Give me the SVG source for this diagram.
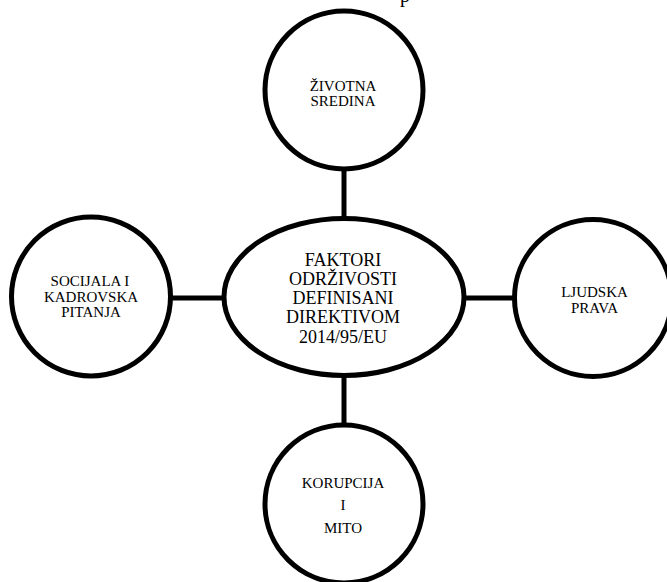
<svg xmlns="http://www.w3.org/2000/svg" width="667" height="582" viewBox="0 0 667 582">
<style>
.n{fill:#fff;stroke:#000;stroke-width:5}
.c{stroke:#000;stroke-width:5;fill:none}
.t{font-family:"Liberation Serif","Times New Roman",serif;font-size:15px;fill:#000;text-anchor:middle}
.tb{font-size:18px}
</style>
<rect width="667" height="582" fill="#fff"/>
<text x="405" y="1.5" class="t" style="font-size:20px">p</text>
<g id="connectors">
<line class="c" x1="344" y1="168" x2="344" y2="218"/>
<line class="c" x1="344" y1="377" x2="344" y2="424"/>
<line class="c" x1="172" y1="298" x2="223" y2="298"/>
<line class="c" x1="465" y1="298" x2="514" y2="298"/>
</g>
<g id="center">
<ellipse class="n" cx="344" cy="297" rx="120" ry="78.5"/>
<text class="t tb" x="343" y="266">FAKTORI</text>
<text class="t tb" x="343" y="285">ODRŽIVOSTI</text>
<text class="t tb" x="343" y="304">DEFINISANI</text>
<text class="t tb" x="343" y="323">DIREKTIVOM</text>
<text class="t tb" x="343" y="342.5">2014/95/EU</text>
</g>
<g id="top">
<circle class="n" cx="344" cy="90" r="79"/>
<text class="t" x="343" y="90.5">ŽIVOTNA</text>
<text class="t" x="343" y="106">SREDINA</text>
</g>
<g id="left">
<circle class="n" cx="91" cy="296.5" r="79.5"/>
<text class="t" x="90" y="286">SOCIJALA I</text>
<text class="t" x="91" y="301.5">KADROVSKA</text>
<text class="t" x="91" y="317">PITANJA</text>
</g>
<g id="right">
<circle class="n" cx="593" cy="298" r="78.5"/>
<text class="t" x="594.5" y="296.5">LJUDSKA</text>
<text class="t" x="594.5" y="313">PRAVA</text>
</g>
<g id="bottom">
<circle class="n" cx="344" cy="504" r="79"/>
<text class="t" x="343" y="487.5">KORUPCIJA</text>
<text class="t" x="343" y="510">I</text>
<text class="t" x="343" y="532.5">MITO</text>
</g>
</svg>
